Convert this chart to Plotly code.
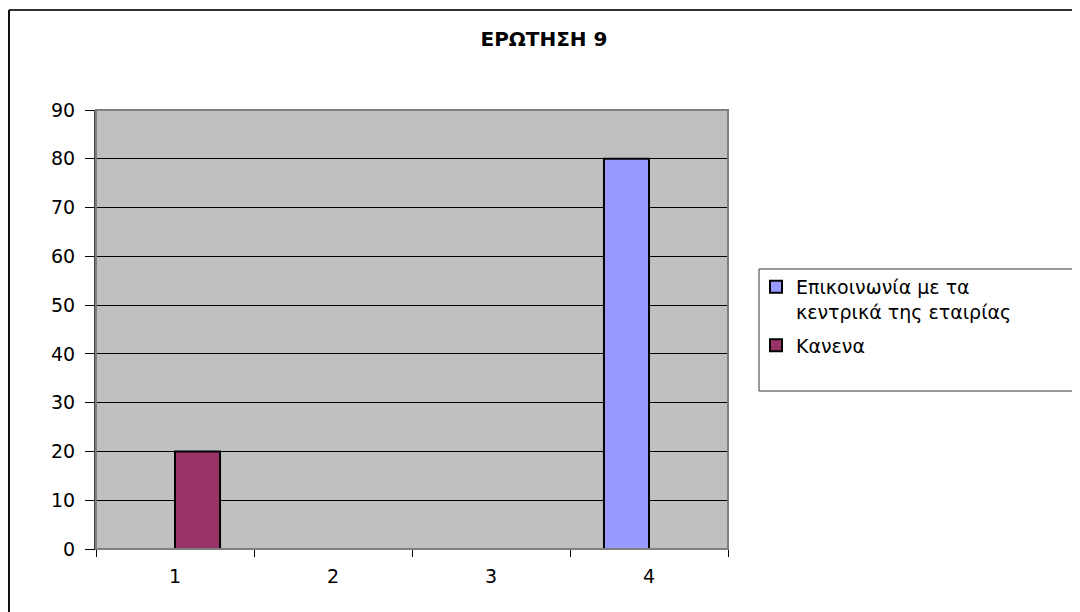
import plotly.graph_objects as go

categories = ["1", "2", "3", "4"]
series_names = ["Επικοινωνία με τα<br>κεντρικά της εταιρίας", "Κανενα"]
epikoinonia = [0, 0, 0, 80]
kanena = [20, 0, 0, 0]
colors = ["#9999FF", "#993366"]
title_text = "<b>ΕΡΩΤΗΣΗ 9</b>"

# page body has an 8px margin; work in window pixels and shift
O = 8
W, H = 1080 - O, 612 - O
L, R, T, B = 96 - O, 728 - O, 110 - O, 549 - O
pw, ph = R - L, B - T

def px(x):
    return (x - O - L) / pw

def py(y):
    return (B - (y - O)) / ph

FONT = "DejaVu Sans"

fig = go.Figure()
for name, vals, col, grp in [(series_names[0], epikoinonia, colors[0], "a"),
                             (series_names[1], kanena, colors[1], "b")]:
    fig.add_trace(go.Bar(
        x=categories, y=vals, name=name, legendgroup=grp,
        marker=dict(color=col, line=dict(color="black", width=2)),
    ))

fig.update_layout(
    width=W, height=H,
    margin=dict(l=L, r=W - R, t=T, b=H - B),
    paper_bgcolor="white", plot_bgcolor="#C0C0C0",
    barmode="group", bargap=0.43, bargroupgap=0,
    title=dict(text=title_text, x=(544 - O) / W, xanchor="center",
               y=1 - (39 - O) / H, yanchor="middle",
               font=dict(family=FONT, size=20, color="black")),
    font=dict(family=FONT, color="black"),
    legend=dict(x=px(756), xanchor="left", y=py(268), yanchor="top",
                bgcolor="rgba(0,0,0,0)", borderwidth=0,
                font=dict(family=FONT, size=19, color="black"),
                valign="top", tracegroupgap=6),
    showlegend=True,
)
fig.update_xaxes(type="category", tickson="boundaries", ticks="outside",
                 ticklen=7, tickcolor="black", showline=True, linecolor="black",
                 linewidth=1, showgrid=False, ticklabelstandoff=10,
                 tickfont=dict(family=FONT, size=19, color="black"))
fig.update_yaxes(range=[0, 90], dtick=10, ticks="outside", ticklen=9,
                 tickcolor="black", showline=True, linecolor="#404040",
                 linewidth=2, showgrid=True, gridcolor="black", gridwidth=1,
                 zeroline=False, ticklabelstandoff=6,
                 tickfont=dict(family=FONT, size=19, color="black"))

shapes = [
    dict(type="rect", xref="paper", yref="paper", x0=0, y0=0, x1=1, y1=1,
         line=dict(color="#808080", width=2), layer="above"),
    dict(type="rect", xref="paper", yref="paper", x0=px(759), x1=px(1075),
         y0=py(391), y1=py(269), line=dict(color="#333333", width=1),
         fillcolor="rgba(0,0,0,0)", layer="above"),
    dict(type="line", xref="paper", yref="paper", x0=px(9), x1=px(1080),
         y0=py(10), y1=py(10), line=dict(color="#333333", width=2)),
    dict(type="line", xref="paper", yref="paper", x0=px(9), x1=px(9),
         y0=py(10), y1=py(612), line=dict(color="#111111", width=2)),
]
fig.update_layout(shapes=shapes)

fig.write_html("out.html")
